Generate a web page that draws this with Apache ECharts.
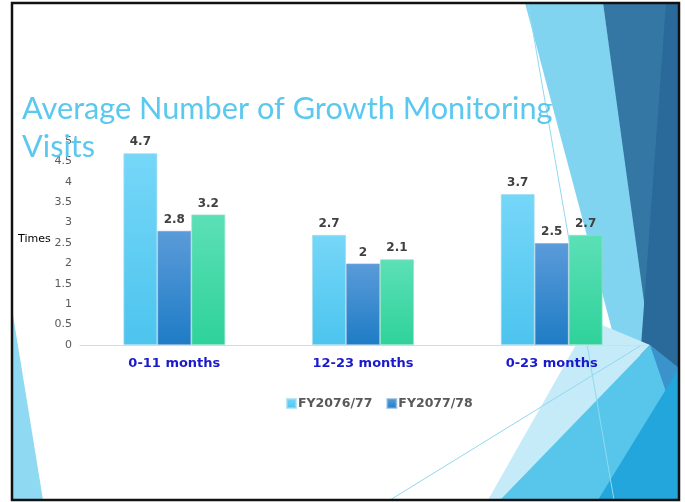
<!DOCTYPE html>
<html>
<head>
<meta charset="utf-8">
<script src="https://cdn.jsdelivr.net/npm/echarts@6/dist/echarts.min.js"></script>
<style>
  html, body { margin: 0; padding: 0; background: #fff; }
  #root { width: 685px; height: 502px; }
</style>
</head>
<body>
<div id="root"></div>
<script>
// chart data
var categories = ['0-11 months', '12-23 months', '0-23 months'];
var fy7677 = [4.7, 2.7, 3.7];
var fy7778 = [2.8, 2, 2.5];
var third = [3.2, 2.1, 2.7];
var legendNames = ['FY2076/77', 'FY2077/78'];

var grad = function (top, bottom) {
    return new echarts.graphic.LinearGradient(0, 0, 0, 1, [
        { offset: 0, color: top },
        { offset: 1, color: bottom }
    ])
}

var poly = function (pts, color, z) {
    return { type: 'polygon', z: z || -10, silent: true, shape: { points: pts }, style: { fill: color } }
}
var line = function (x1, y1, x2, y2, color) {
    return { type: 'line', z: -9, silent: true, shape: { x1: x1, y1: y1, x2: x2, y2: y2 }, style: { stroke: color, lineWidth: 1 } }
}

var valueLabel = {
    show: true,
    position: 'top',
    distance: 5,
    color: '#404040',
    fontFamily: 'DejaVu Sans',
    fontWeight: 'bold',
    fontSize: 12
}

var chart = echarts.init(document.getElementById('root'))
var option = {
    backgroundColor: '#fff',
    animation: false,
    title: {
        text: 'Average Number of Growth Monitoring\nVisits',
        left: 17,
        top: 85,
        textStyle: {
            color: '#5ac8ef',
            fontFamily: 'Lato',
            fontWeight: 'normal',
            fontSize: 30.7,
            lineHeight: 38
        }
    },
    graphic: [
        // slide decoration
        poly([[13, 315], [13, 500], [43, 500]], '#8fd9f2'),
        poly([[525, 3], [603, 3], [655, 360], [612, 330]], '#80d4ef'),
        poly([[603, 3], [679, 3], [679, 392], [650, 345]], '#3476a4'),
        poly([[666, 3], [679, 3], [679, 400], [640, 360]], '#2a6a9b'),
        poly([[590, 320], [650, 345], [500, 500], [488, 500]], '#c6ebf8'),
        poly([[650, 345], [679, 370], [679, 500], [500, 500]], '#58c6eb'),
        poly([[650, 345], [679, 368], [679, 430]], '#3b93cc'),
        poly([[679, 368], [679, 500], [598, 500]], '#22a6dc'),
        line(528, 3, 614, 500, '#8fd9f2'),
        line(390, 500, 640, 346, '#8fd9f2'),
        // slide border
        { type: 'rect', z: 100, silent: true, shape: { x: 12, y: 3, width: 667, height: 497 },
          style: { fill: 'none', stroke: '#111', lineWidth: 2.5 } },
        { type: 'text', left: 18, top: 234,
          style: { text: 'Times', fill: '#000', font: '11px "DejaVu Sans"' } }
    ],
    legend: {
        data: legendNames,
        left: 281,
        top: 392,
        icon: 'rect',
        itemWidth: 9,
        itemHeight: 9,
        itemGap: 14,
        textStyle: { color: '#595959', fontFamily: 'DejaVu Sans', fontWeight: 'bold', fontSize: 12.5, padding: [0, 0, 0, -3] }
    },
    grid: { left: 80, right: 39, top: 141, bottom: 157, containLabel: false },
    xAxis: {
        type: 'category',
        data: categories,
        axisLine: { lineStyle: { color: '#d9d9d9', width: 1 } },
        axisTick: { show: false },
        axisLabel: { color: '#1a1acc', fontFamily: 'DejaVu Sans', fontWeight: 'bold', fontSize: 13, margin: 12 }
    },
    yAxis: {
        type: 'value',
        min: 0,
        max: 5,
        interval: 0.5,
        axisLine: { show: false },
        axisTick: { show: false },
        splitLine: { show: false },
        axisLabel: { color: '#595959', fontFamily: 'DejaVu Sans', fontSize: 11, margin: 8 }
    },
    series: [
        {
            name: 'FY2076/77', type: 'bar', data: fy7677,
            barGap: '0%', barCategoryGap: '46%',
            itemStyle: { color: grad('#76d7f8', '#4cc4ee'), borderColor: 'rgba(160,220,240,0.7)', borderWidth: 1 },
            label: valueLabel
        },
        {
            name: 'FY2077/78', type: 'bar', data: fy7778,
            itemStyle: { color: grad('#5b9bd9', '#1e7cc5'), borderColor: 'rgba(120,170,220,0.6)', borderWidth: 1 },
            label: valueLabel
        },
        {
            name: 'Series3', type: 'bar', data: third,
            itemStyle: { color: grad('#5ce0b6', '#2fd29a'), borderColor: 'rgba(140,225,195,0.7)', borderWidth: 1 },
            label: valueLabel
        }
    ]
}
chart.setOption(option)
</script>
</body>
</html>
